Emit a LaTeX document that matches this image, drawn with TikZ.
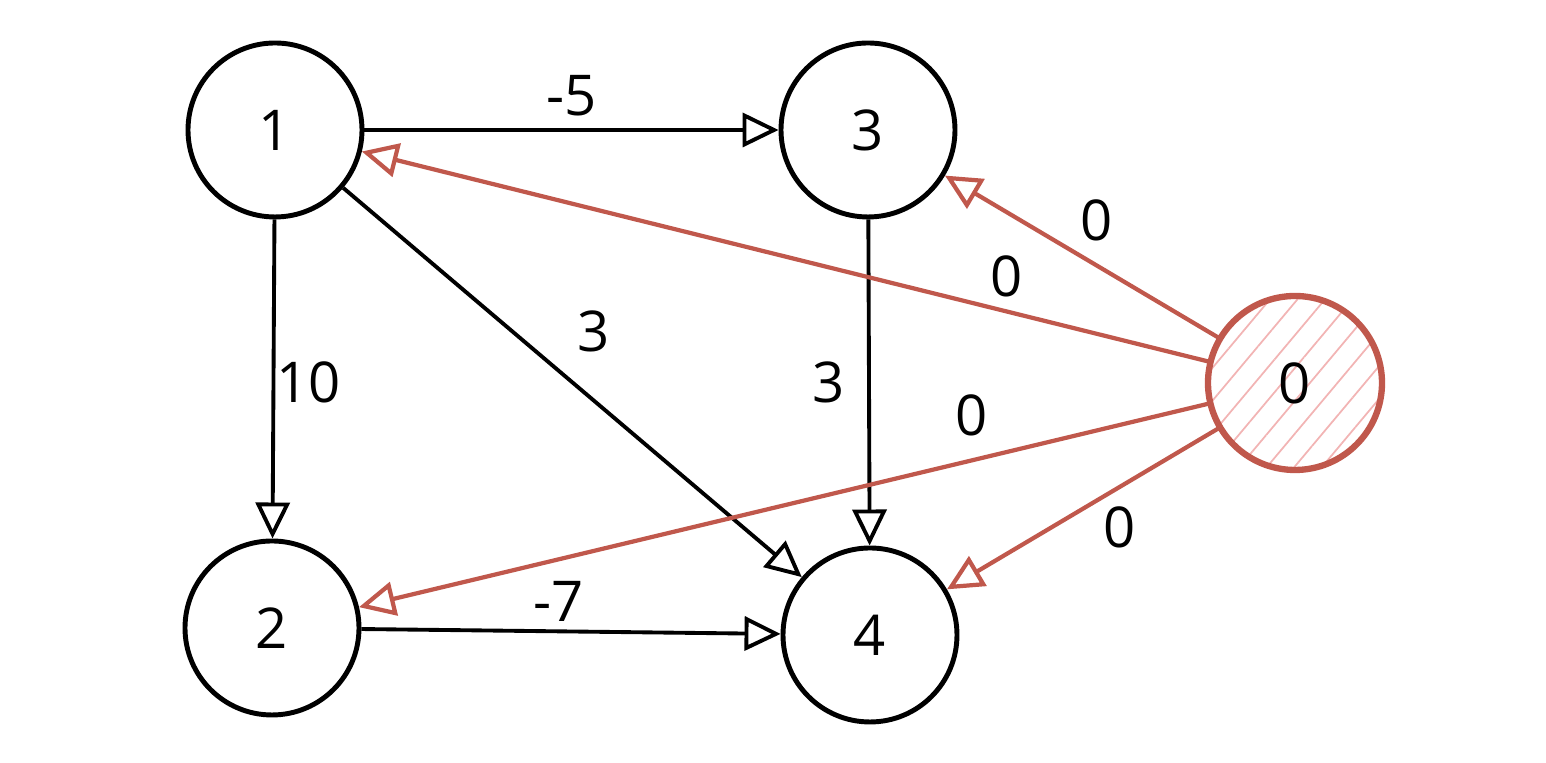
\documentclass[tikz,border=0pt]{standalone}
\usepackage{fontspec}
\setmainfont{Open Sans}
\usetikzlibrary{arrows.meta,positioning,patterns.meta}
\definecolor{redge}{RGB}{192,88,76}
\definecolor{hatch}{RGB}{242,180,180}

\begin{document}
\begin{tikzpicture}[
  font=\fontsize{16}{19}\selectfont,
  vtx/.style={circle, draw, line width=1.4pt, minimum size=1.74cm, inner sep=0pt},
  src/.style={vtx, draw=redge, line width=1.8pt,
    pattern={Lines[angle=50,distance=6pt,line width=0.5pt]}, pattern color=hatch},
  arc/.style={-{Triangle[open,length=3.6mm,width=3.4mm]}, line width=1.1pt},
  rarc/.style={arc, draw=redge, line width=1.2pt}
  ]
  \useasboundingbox (0,0) rectangle (15.46,7.63);

  % vertices
  \node[vtx] (n1) at (2.75,6.33) {1};
  \node[vtx] (n3) at (8.68,6.33) {3};
  \node[vtx] (n2) at (2.72,1.35) {2};
  \node[vtx] (n4) at (8.70,1.28) {4};
  \node[src] (n0) at (12.95,3.80) {0};

  % original edges
  \draw[arc] (n1) -- node[pos=0.5,above]{-5} (n3);
  \draw[arc] (n1) -- node[pos=0.51,right=-3pt]{10} (n2);
  \draw[arc] (n1) -- node[pos=0.47,above right=2pt]{3} (n4);
  \draw[arc] (n3) -- node[pos=0.5,left=3pt]{3} (n4);
  \draw[arc] (n2) -- node[pos=0.47,above=-1pt]{-7} (n4);

  % edges from the added source
  \draw[rarc] (n0) -- node[pos=0.54,above right=-2pt]{0} (n3);
  \draw[rarc] (n0) -- node[pos=0.24,above=0pt]{0} (n1);
  \draw[rarc] (n0) -- node[pos=0.28,above=3pt]{0} (n2);
  \draw[rarc] (n0) -- node[pos=0.45,below right=-3pt]{0} (n4);

\end{tikzpicture}
\end{document}
